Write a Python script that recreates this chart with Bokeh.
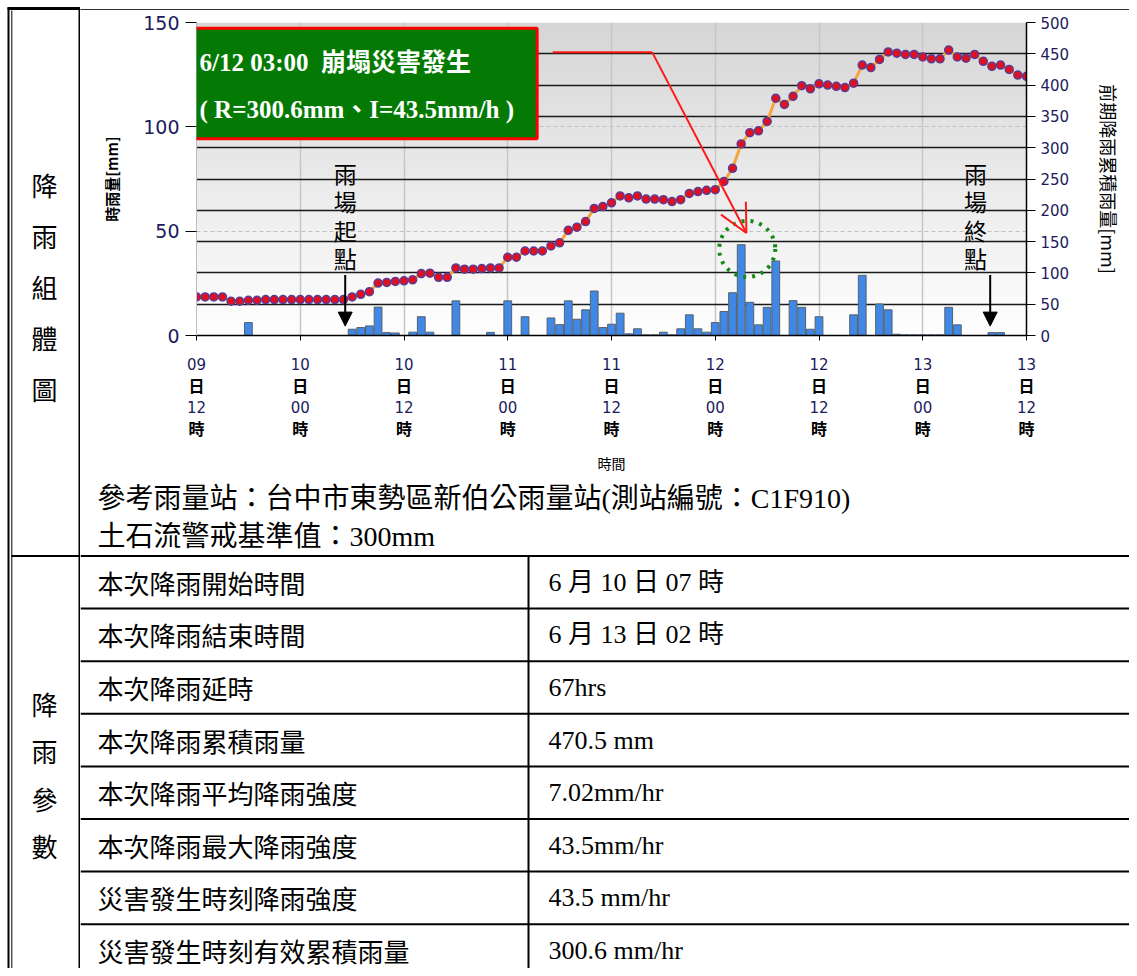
import numpy as np
from bokeh.plotting import figure
from bokeh.layouts import row, column
from bokeh.models import (Range1d, LinearAxis, FixedTicker, Grid, BoxAnnotation,
                          Label, Arrow, OpenHead, NormalHead)
from bokeh.core.properties import value
from bokeh.embed import file_html
from bokeh.resources import INLINE

# ---------------- data ----------------
hours = list(range(97))  # hours since 6/9 12:00
tick_hours = [0, 12, 24, 36, 48, 60, 72, 84, 96]
tick_day = ["09", "10", "10", "11", "11", "12", "12", "13", "13"]
tick_hour = ["12", "00", "12", "00", "12", "00", "12", "00", "12"]

hourly_rain = [0, 0, 0, 0, 0, 0, 6.2, 0, 0, 0,
               0, 0, 0, 0, 0, 0, 0, 0, 3.0, 3.8,
               4.6, 13.6, 1.4, 1.2, 0, 1.6, 9.0, 1.6, 0, 0,
               16.6, 0, 0, 0, 1.5, 0, 16.6, 0, 9.0, 0,
               0, 8.4, 5.2, 16.6, 7.8, 12.3, 21.3, 3.8, 5.4, 10.7,
               0.8, 3.2, 0.3, 0.3, 1.6, 0.3, 3.2, 9.9, 3.2, 1.6,
               6.2, 11.5, 20.5, 43.5, 15.9, 5.1, 13.5, 35.7, 0, 16.7,
               13.5, 3.0, 9.0, 0, 0, 0, 9.9, 28.8, 0, 15.1,
               12.3, 0.6, 0.3, 0.3, 0.3, 0.3, 0.3, 13.5, 5.1, 0,
               0, 0, 1.4, 1.4, 0, 0, 0]

cum_rain = [61.6, 61.6, 61.6, 61.6, 54.7, 54.7, 56.3, 56.3, 57.4, 57.4,
            57.4, 57.4, 57.4, 57.4, 57.4, 57.4, 57.4, 57.4, 61.6, 65.8,
            70.0, 83.7, 84.7, 86.3, 87.4, 89.0, 99.0, 99.5, 93.0, 93.0,
            108, 106, 106, 107, 108, 108, 125, 125, 135, 135,
            135, 143, 148, 168, 173, 182, 203, 206, 212, 223,
            220, 223, 218, 218, 217, 214, 217, 227, 230, 232,
            233, 246, 267, 306, 324, 327, 342, 379, 369, 382,
            399, 394, 402, 400, 398, 396, 403, 432, 428, 441,
            453, 451, 449, 449, 445, 442, 442, 456, 445, 443,
            449, 438, 430, 432, 425, 416, 414]

EVENT_HOUR = 63      # 6/12 03:00
EVENT_I = 43.5
RAIN_START_MARK = 17.2
RAIN_END_MARK = 91.8

station_lines = ["參考雨量站：台中市東勢區新伯公雨量站(測站編號：C1F910)",
                 "土石流警戒基準值：300mm"]
param_labels = ["本次降雨開始時間", "本次降雨結束時間", "本次降雨延時", "本次降雨累積雨量",
                "本次降雨平均降雨強度", "本次降雨最大降雨強度", "災害發生時刻降雨強度",
                "災害發生時刻有效累積雨量"]
param_values = ["6 月 10 日 07 時", "6 月 13 日 02 時", "67hrs", "470.5 mm",
                "7.02mm/hr", "43.5mm/hr", "43.5 mm/hr", "300.6 mm/hr"]

CJK = "Noto Sans CJK TC"
SERIF = "Liberation Serif, Noto Sans CJK TC"
NAVY = "#1c1c5c"

TOTAL_H = 968
LEFT_W = 80
RIGHT_W = 1049

common = dict(output_backend="svg", toolbar_location=None, title=None,
              x_axis_type=None, y_axis_type=None, outline_line_color=None)

# ---------------- left column ----------------
lf = figure(width=LEFT_W, height=TOTAL_H, x_range=Range1d(0, LEFT_W),
            y_range=Range1d(TOTAL_H, 0), min_border=0, **common)
lf.frame_align = False
lf.segment(x0=[7], y0=[8], x1=[LEFT_W], y1=[8], line_color="black", line_width=3)
lf.segment(x0=[8], y0=[7], x1=[8], y1=[TOTAL_H], line_color="black", line_width=2)
lf.segment(x0=[11.3], y0=[10], x1=[11.3], y1=[TOTAL_H], line_color="black", line_width=1)
lf.segment(x0=[79], y0=[7], x1=[79], y1=[TOTAL_H], line_color="black", line_width=2)
lf.segment(x0=[11], y0=[555.5], x1=[LEFT_W], y1=[555.5], line_color="black", line_width=2)
lf.text(x=[44], y=[286], text=["降\n雨\n組\n體\n圖"],
        text_font=value(CJK), text_font_size=value("26px"), text_color="black",
        text_align="center", text_baseline="middle", text_line_height=1.38)
lf.text(x=[44], y=[774], text=["降\n雨\n參\n數"],
        text_font=value(CJK), text_font_size=value("26px"), text_color="black",
        text_align="center", text_baseline="middle", text_line_height=1.28)

# ---------------- top border of right column ----------------
tl = figure(width=RIGHT_W, height=10, x_range=Range1d(0, 1), y_range=Range1d(0, 1),
            min_border=0, min_border_top=7, background_fill_color="black", **common)
tl.frame_align = False
tl.quad(left=[0], right=[1], bottom=[0], top=[1], fill_color="black", line_color="black")

# ---------------- chart ----------------
p = figure(width=RIGHT_W, height=465, x_range=Range1d(0, 96), y_range=Range1d(0, 150),
           min_border_left=116, min_border_right=103, min_border_top=12, min_border_bottom=135,
           **common)
p.frame_align = False
p.extra_y_ranges = {"right": Range1d(0, 500)}

# background gradient
n = 64
grad = np.zeros((n, 1), dtype=np.uint32)
view = grad.view(dtype=np.uint8).reshape((n, 1, 4))
for k in range(n):
    t = k / (n - 1)
    g = int(round(254 - t * (254 - 214)))
    view[k, 0, :] = [g, g, g, 255]
p.image_rgba(image=[grad], x=0, y=0, dw=96, dh=150, level="image")

p.add_layout(Grid(dimension=0, ticker=FixedTicker(ticks=tick_hours),
                  grid_line_color="#c6c6c6", grid_line_width=1.5))
p.add_layout(Grid(dimension=1, ticker=FixedTicker(ticks=[50, 100]),
                  grid_line_color="#c0c0c0", grid_line_dash="4 3", grid_line_width=1))
p.add_layout(Grid(dimension=1, y_range_name="right",
                  ticker=FixedTicker(ticks=list(range(50, 501, 50))),
                  grid_line_color="#1a1a1a", grid_line_width=1.5))

# axes
la = LinearAxis(ticker=FixedTicker(ticks=[0, 50, 100, 150]), axis_label="時雨量[mm]")
la.major_tick_out = 11
la.major_tick_in = 0
la.minor_tick_line_color = None
la.major_tick_line_color = "black"
la.axis_line_color = "#bdbdbd"
la.major_label_text_font = "DejaVu Sans"
la.major_label_text_font_size = "19px"
la.major_label_text_color = NAVY
la.major_label_standoff = 6
la.axis_label_text_font = CJK
la.axis_label_text_font_size = "15px"
la.axis_label_text_font_style = "bold"
la.axis_label_text_color = "black"
la.axis_label_standoff = 18
p.add_layout(la, "left")

ra = LinearAxis(y_range_name="right", ticker=FixedTicker(ticks=list(range(0, 501, 50))),
                axis_label="前期降雨累積雨量[mm]")
ra.major_tick_out = 9
ra.major_tick_in = 0
ra.minor_tick_line_color = None
ra.major_tick_line_color = "black"
ra.axis_line_color = "black"
ra.axis_line_width = 1.5
ra.major_label_text_font = "DejaVu Sans"
ra.major_label_text_font_size = "15px"
ra.major_label_text_color = NAVY
ra.major_label_standoff = 5
ra.axis_label_text_font = CJK
ra.axis_label_text_font_size = "18px"
ra.axis_label_text_font_style = "normal"
ra.axis_label_text_color = "black"
ra.axis_label_standoff = 24
p.add_layout(ra, "right")

bottom_rows = [
    (tick_day, "DejaVu Sans", "15px", "normal", NAVY, 17),
    (["日"] * 9, CJK, "16px", "bold", "black", 0),
    (tick_hour, "DejaVu Sans", "15px", "normal", NAVY, 1),
    (["時"] * 9, CJK, "16px", "bold", "black", 0),
]
for idx, (labels, font, size, style, color, standoff) in enumerate(bottom_rows):
    ax = LinearAxis(ticker=FixedTicker(ticks=tick_hours),
                    major_label_overrides={h: s for h, s in zip(tick_hours, labels)})
    ax.minor_tick_line_color = None
    ax.major_tick_in = 0
    if idx == 0:
        ax.major_tick_out = 5
        ax.major_tick_line_color = "black"
        ax.axis_line_color = "black"
        ax.axis_line_width = 1.5
    else:
        ax.major_tick_out = 0
        ax.major_tick_line_color = None
        ax.axis_line_color = None
    ax.major_label_text_font = font
    ax.major_label_text_font_size = size
    ax.major_label_text_font_style = style
    ax.major_label_text_color = color
    ax.major_label_standoff = standoff
    if idx == 3:
        ax.axis_label = "時間"
        ax.axis_label_text_font = CJK
        ax.axis_label_text_font_size = "14px"
        ax.axis_label_text_font_style = "normal"
        ax.axis_label_text_color = "black"
        ax.axis_label_standoff = 10
    p.add_layout(ax, "below")

# bars and accumulated line
p.vbar(x=hours, top=hourly_rain, width=0.9, fill_color="#3f88e6",
       line_color="#58616c", line_width=1)
p.line(x=hours, y=cum_rain, y_range_name="right", line_color="#f8a33c", line_width=3)
p.scatter(x=hours, y=cum_rain, y_range_name="right", size=8, marker="circle",
          fill_color="#e01020", line_color="#5a3c96", line_width=1.5)

# event highlight
p.scatter(x=[EVENT_HOUR + 0.7], y=[EVENT_I - 2], size=56, marker="circle",
          fill_color=None, line_color="#138a13", line_width=4, line_dash="3 6")

# annotation box
p.add_layout(BoxAnnotation(left=-1.2, right=39.4, bottom=94.3, top=147.3,
                           fill_color="#047a04", fill_alpha=1.0,
                           line_color="#ff0000", line_width=3, line_alpha=1.0))
p.add_layout(Label(x=0.35, y=130.7, text="6/12 03:00\u00a0 崩塌災害發生",
                   text_color="white", text_font=SERIF, text_font_size="25px",
                   text_font_style="bold", text_baseline="middle"))
p.add_layout(Label(x=0.35, y=108.5, text="( R=300.6mm、I=43.5mm/h )",
                   text_color="white", text_font=SERIF, text_font_size="25px",
                   text_font_style="bold", text_baseline="middle"))
p.segment(x0=[41.2], y0=[135.8], x1=[52.7], y1=[135.8], line_color="#ff1a1a", line_width=2)
p.add_layout(Arrow(end=OpenHead(size=28, line_color="#ff1a1a", line_width=2),
                   x_start=52.7, y_start=135.8, x_end=EVENT_HOUR + 0.6, y_end=EVENT_I + 5.6,
                   line_color="#ff1a1a", line_width=2))

# rain start / end markers
for xt, xa, txt in [(RAIN_START_MARK, RAIN_START_MARK, "雨\n場\n起\n點"),
                    (RAIN_END_MARK - 1.7, RAIN_END_MARK, "雨\n場\n終\n點")]:
    p.add_layout(Label(x=xt, y=57.5, text=txt, text_font=CJK, text_font_size="23px",
                       text_font_style="normal", text_color="black", text_align="center",
                       text_baseline="middle", text_line_height=0.84))
    p.add_layout(Arrow(end=NormalHead(size=14, fill_color="black", line_color="black"),
                       x_start=xa, y_start=29.0, x_end=xa, y_end=4.5,
                       line_color="black", line_width=2))

# ---------------- lower part (station text + table) ----------------
low_top = 475
bf = figure(width=RIGHT_W, height=TOTAL_H - low_top, x_range=Range1d(LEFT_W, LEFT_W + RIGHT_W),
            y_range=Range1d(TOTAL_H, low_top), min_border=0, **common)
bf.frame_align = False
bf.text(x=[97, 97], y=[498, 536], text=station_lines, text_font=value(SERIF),
        text_font_size=value("28px"), text_color="black", text_baseline="middle")

table_top = 555.5
row_h = 52.6
n_rows = len(param_labels)
ys = [table_top + row_h * k for k in range(n_rows)]
bf.segment(x0=[LEFT_W] * n_rows, y0=ys, x1=[LEFT_W + RIGHT_W] * n_rows, y1=ys,
           line_color="black", line_width=2)
bf.segment(x0=[528], y0=[table_top], x1=[528], y1=[TOTAL_H], line_color="black", line_width=2)
centers = [table_top + row_h * (k + 0.5) for k in range(n_rows)]
bf.text(x=[97] * n_rows, y=centers, text=param_labels, text_font=value(CJK),
        text_font_size=value("26px"), text_color="black", text_baseline="middle")
bf.text(x=[548] * n_rows, y=centers, text=param_values, text_font=value(SERIF),
        text_font_size=value("26px"), text_color="black", text_baseline="middle")

layout = row(lf, column(tl, p, bf))
open("out.html", "w").write(file_html(layout, INLINE))
